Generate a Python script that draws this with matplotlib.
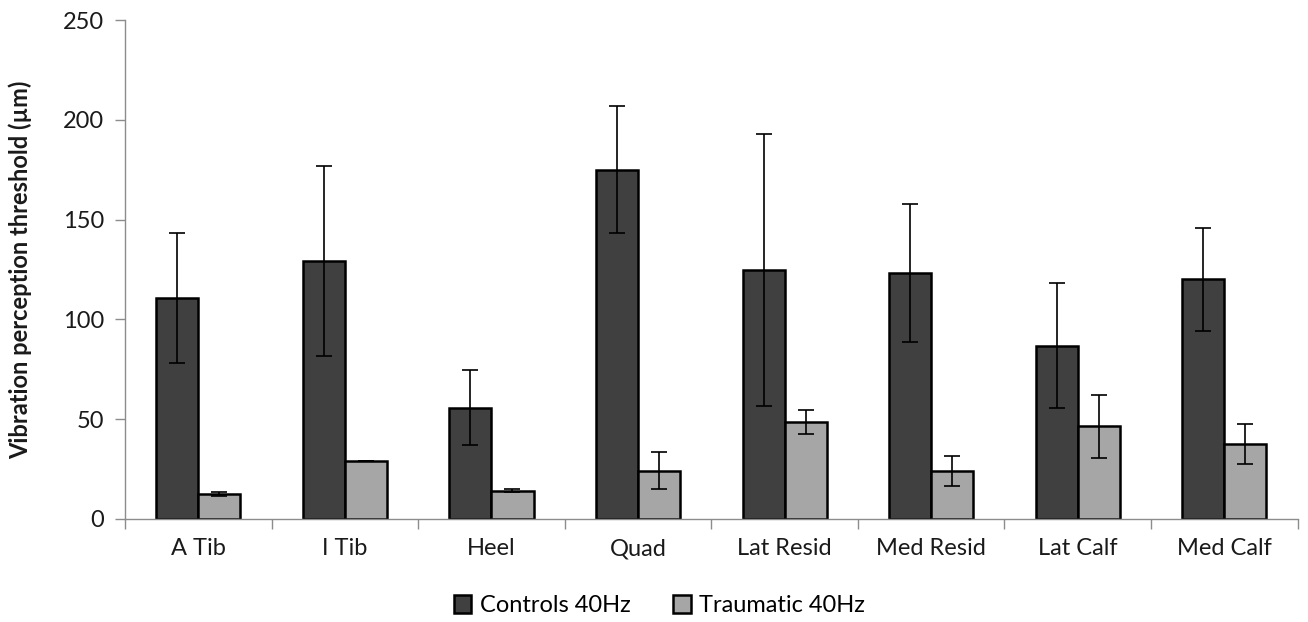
import matplotlib
matplotlib.use("Agg")
import matplotlib.pyplot as plt
import numpy as np

categories = ["A Tib", "I Tib", "Heel", "Quad", "Lat Resid", "Med Resid", "Lat Calf", "Med Calf"]
controls = [110.7, 129.3, 55.8, 175.0, 124.7, 123.4, 86.7, 120.0]
controls_err = [32.5, 47.5, 18.8, 31.8, 68.2, 34.5, 31.3, 25.8]
traumatic = [12.6, 29.2, 14.1, 24.1, 48.6, 24.1, 46.4, 37.6]
traumatic_err = [1.0, 0.0, 0.7, 9.3, 6.1, 7.4, 15.8, 10.0]

plt.rcParams['font.family'] = ['Lato', 'DejaVu Sans']

fig = plt.figure(figsize=(13.08, 6.22), dpi=100)
ax = fig.add_axes([0.0956, 0.1656, 0.8964, 0.8022])

x = np.arange(len(categories))
w = 0.287
axis_col = "#8c8c8c"
txt_col = "#1a1a1a"

ax.bar(x - w / 2, controls, w, color="#404040", edgecolor="black", linewidth=1.8,
       yerr=controls_err, error_kw=dict(ecolor="black", elinewidth=1.2, capsize=6, capthick=1.2),
       label="Controls 40Hz", zorder=2)
ax.bar(x + w / 2, traumatic, w, color="#a6a6a6", edgecolor="black", linewidth=1.8,
       yerr=traumatic_err, error_kw=dict(ecolor="black", elinewidth=1.2, capsize=6, capthick=1.2),
       label="Traumatic 40Hz", zorder=2)

ax.set_xlim(-0.5, len(categories) - 0.5)
ax.set_ylim(0, 250)
ax.set_yticks([0, 50, 100, 150, 200, 250])
ax.set_xticks(x)
ax.set_xticklabels(categories, fontsize=17, color=txt_col)
ax.set_xticks(np.arange(-0.5, len(categories) + 0.5, 1), minor=True)
ax.tick_params(axis="x", which="major", length=0, pad=14)
ax.tick_params(axis="x", which="minor", length=7, color=axis_col, width=1)
ax.tick_params(axis="y", length=7, color=axis_col, width=1, labelsize=17, labelcolor=txt_col, pad=8)

for s in ["top", "right"]:
    ax.spines[s].set_visible(False)
for s in ["left", "bottom"]:
    ax.spines[s].set_color(axis_col)
    ax.spines[s].set_linewidth(1)

ax.set_ylabel("Vibration perception threshold (µm)", fontsize=17, fontweight="bold",
              color=txt_col, labelpad=22)

leg = fig.legend(loc="center", bbox_to_anchor=(0.504, 0.026), ncol=2, frameon=False, fontsize=17,
                 handlelength=0.75, handleheight=0.75, handletextpad=0.35, columnspacing=1.8)

fig.savefig("out.png", dpi=100)
